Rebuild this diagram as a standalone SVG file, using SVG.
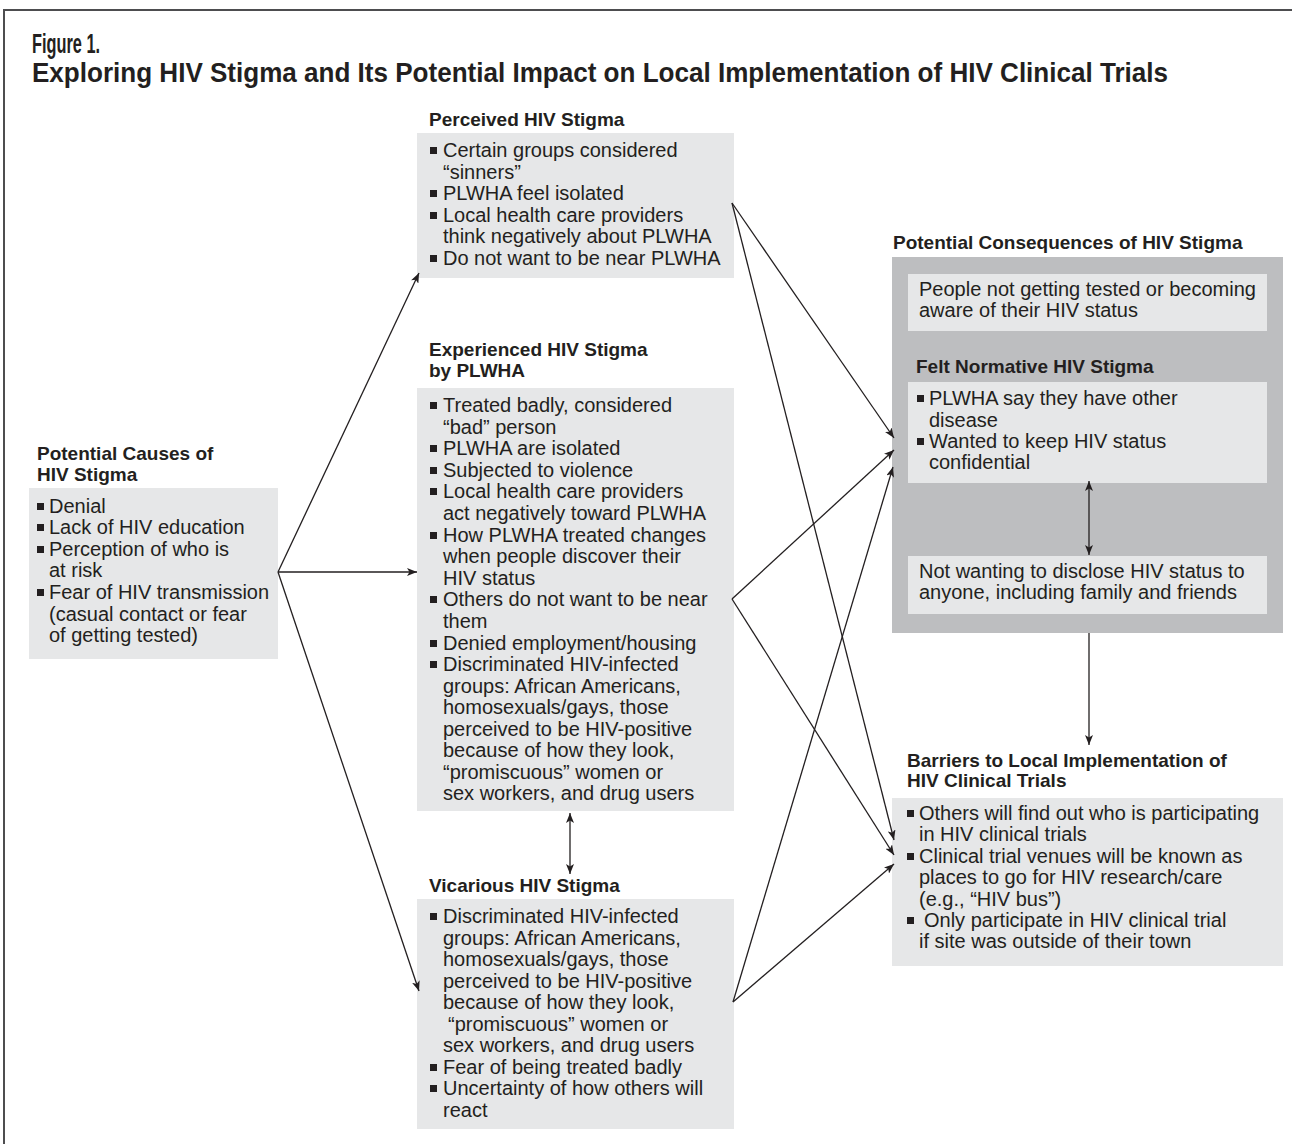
<svg xmlns="http://www.w3.org/2000/svg" width="1292" height="1144" viewBox="0 0 1292 1144">
<style>
.t{font-family:"Liberation Sans",Arial,sans-serif;font-size:20px;fill:#231f20}
.h{font-family:"Liberation Sans",Arial,sans-serif;font-size:19px;font-weight:bold;fill:#231f20}
.ti{font-family:"Liberation Sans Narrow","Liberation Sans",Arial,sans-serif;font-size:27px;font-weight:bold;fill:#231f20}
.box{fill:#e6e7e8}
.dark{fill:#bdbec0}
.b{fill:#231f20}
.c{stroke:#231f20;stroke-width:1.3;fill:none}
</style>
<defs>
<marker id="ah" viewBox="0 0 10 8" refX="10" refY="4" markerWidth="10" markerHeight="8" markerUnits="userSpaceOnUse" orient="auto-start-reverse">
<path d="M0,0 L10,4 L0,8 L2.5,4 z" fill="#231f20"/>
</marker>
</defs>
<rect width="1292" height="1144" fill="#ffffff"/>
<path d="M4,1144 L4,10 L1292,10" stroke="#4d4d4f" stroke-width="2" fill="none"/>
<g id="title">
<text class="ti" x="32" y="53" textLength="68" lengthAdjust="spacingAndGlyphs">Figure 1.</text>
<text class="ti" x="32" y="82" textLength="1136" lengthAdjust="spacingAndGlyphs">Exploring HIV Stigma and Its Potential Impact on Local Implementation of HIV Clinical Trials</text>
</g>

<g id="causes">
<text class="h" x="37" y="460">Potential Causes of</text>
<text class="h" x="37" y="481">HIV Stigma</text>
<rect class="box" x="29" y="488" width="249" height="171"/>
<rect class="b" x="37" y="503" width="7" height="7"/><text class="t" x="49" y="513">Denial</text>
<rect class="b" x="37" y="524" width="7" height="7"/><text class="t" x="49" y="534">Lack of HIV education</text>
<rect class="b" x="37" y="546" width="7" height="7"/><text class="t" x="49" y="556">Perception of who is</text>
<text class="t" x="49" y="577">at risk</text>
<rect class="b" x="37" y="589" width="7" height="7"/><text class="t" x="49" y="599">Fear of HIV transmission</text>
<text class="t" x="49" y="621">(casual contact or fear</text>
<text class="t" x="49" y="642">of getting tested)</text>
</g>

<g id="perceived">
<text class="h" x="429" y="126">Perceived HIV Stigma</text>
<rect class="box" x="417" y="133" width="317" height="145"/>
<rect class="b" x="430" y="147" width="7" height="7"/><text class="t" x="443" y="157">Certain groups considered</text>
<text class="t" x="443" y="179">“sinners”</text>
<rect class="b" x="430" y="190" width="7" height="7"/><text class="t" x="443" y="200">PLWHA feel isolated</text>
<rect class="b" x="430" y="212" width="7" height="7"/><text class="t" x="443" y="222">Local health care providers</text>
<text class="t" x="443" y="243">think negatively about PLWHA</text>
<rect class="b" x="430" y="255" width="7" height="7"/><text class="t" x="443" y="265">Do not want to be near PLWHA</text>
</g>

<g id="experienced">
<text class="h" x="429" y="356">Experienced HIV Stigma</text>
<text class="h" x="429" y="377">by PLWHA</text>
<rect class="box" x="417" y="388" width="317" height="423"/>
<rect class="b" x="430" y="402" width="7" height="7"/><text class="t" x="443" y="412">Treated badly, considered</text>
<text class="t" x="443" y="434">“bad” person</text>
<rect class="b" x="430" y="445" width="7" height="7"/><text class="t" x="443" y="455">PLWHA are isolated</text>
<rect class="b" x="430" y="467" width="7" height="7"/><text class="t" x="443" y="477">Subjected to violence</text>
<rect class="b" x="430" y="488" width="7" height="7"/><text class="t" x="443" y="498">Local health care providers</text>
<text class="t" x="443" y="520">act negatively toward PLWHA</text>
<rect class="b" x="430" y="532" width="7" height="7"/><text class="t" x="443" y="542">How PLWHA treated changes</text>
<text class="t" x="443" y="563">when people discover their</text>
<text class="t" x="443" y="585">HIV status</text>
<rect class="b" x="430" y="596" width="7" height="7"/><text class="t" x="443" y="606">Others do not want to be near</text>
<text class="t" x="443" y="628">them</text>
<rect class="b" x="430" y="640" width="7" height="7"/><text class="t" x="443" y="650">Denied employment/housing</text>
<rect class="b" x="430" y="661" width="7" height="7"/><text class="t" x="443" y="671">Discriminated HIV-infected</text>
<text class="t" x="443" y="693">groups: African Americans,</text>
<text class="t" x="443" y="714">homosexuals/gays, those</text>
<text class="t" x="443" y="736">perceived to be HIV-positive</text>
<text class="t" x="443" y="757">because of how they look,</text>
<text class="t" x="443" y="779">“promiscuous” women or</text>
<text class="t" x="443" y="800">sex workers, and drug users</text>
</g>

<g id="vicarious">
<text class="h" x="429" y="892">Vicarious HIV Stigma</text>
<rect class="box" x="417" y="899" width="317" height="230"/>
<rect class="b" x="430" y="913" width="7" height="7"/><text class="t" x="443" y="923">Discriminated HIV-infected</text>
<text class="t" x="443" y="945">groups: African Americans,</text>
<text class="t" x="443" y="966">homosexuals/gays, those</text>
<text class="t" x="443" y="988">perceived to be HIV-positive</text>
<text class="t" x="443" y="1009">because of how they look,</text>
<text class="t" x="448" y="1031">“promiscuous” women or</text>
<text class="t" x="443" y="1052">sex workers, and drug users</text>
<rect class="b" x="430" y="1064" width="7" height="7"/><text class="t" x="443" y="1074">Fear of being treated badly</text>
<rect class="b" x="430" y="1085" width="7" height="7"/><text class="t" x="443" y="1095">Uncertainty of how others will</text>
<text class="t" x="443" y="1117">react</text>
</g>

<g id="consequences">
<text class="h" x="893" y="249">Potential Consequences of HIV Stigma</text>
<rect class="dark" x="892" y="257" width="391" height="376"/>
<rect class="box" x="908" y="274" width="359" height="57"/>
<text class="t" x="919" y="296">People not getting tested or becoming</text>
<text class="t" x="919" y="317">aware of their HIV status</text>
</g>

<g id="felt-normative">
<text class="h" x="916" y="373">Felt Normative HIV Stigma</text>
<rect class="box" x="908" y="382" width="359" height="101"/>
<rect class="b" x="917" y="395" width="7" height="7"/><text class="t" x="929" y="405">PLWHA say they have other</text>
<text class="t" x="929" y="427">disease</text>
<rect class="b" x="917" y="438" width="7" height="7"/><text class="t" x="929" y="448">Wanted to keep HIV status</text>
<text class="t" x="929" y="469">confidential</text>
</g>

<g id="not-disclosing">
<rect class="box" x="908" y="556" width="359" height="58"/>
<text class="t" x="919" y="578">Not wanting to disclose HIV status to</text>
<text class="t" x="919" y="599">anyone, including family and friends</text>
</g>

<g id="barriers">
<text class="h" x="907" y="767">Barriers to Local Implementation of</text>
<text class="h" x="907" y="787">HIV Clinical Trials</text>
<rect class="box" x="892" y="798" width="391" height="168"/>
<rect class="b" x="907" y="810" width="7" height="7"/><text class="t" x="919" y="820">Others will find out who is participating</text>
<text class="t" x="919" y="841">in HIV clinical trials</text>
<rect class="b" x="907" y="853" width="7" height="7"/><text class="t" x="919" y="863">Clinical trial venues will be known as</text>
<text class="t" x="919" y="884">places to go for HIV research/care</text>
<text class="t" x="919" y="906">(e.g., “HIV bus”)</text>
<rect class="b" x="907" y="917" width="7" height="7"/><text class="t" x="924" y="927">Only participate in HIV clinical trial</text>
<text class="t" x="919" y="948">if site was outside of their town</text>
</g>

<g id="connectors">
<line class="c" x1="278" y1="572" x2="419" y2="273" marker-end="url(#ah)"/>
<line class="c" x1="278" y1="572" x2="417" y2="572" marker-end="url(#ah)"/>
<line class="c" x1="278" y1="572" x2="419" y2="991" marker-end="url(#ah)"/>
<line class="c" x1="732" y1="203" x2="894" y2="438" marker-end="url(#ah)"/>
<line class="c" x1="732" y1="203" x2="894" y2="840" marker-end="url(#ah)"/>
<line class="c" x1="732" y1="599" x2="894" y2="450" marker-end="url(#ah)"/>
<line class="c" x1="732" y1="599" x2="894" y2="855" marker-end="url(#ah)"/>
<line class="c" x1="733" y1="1002" x2="893" y2="467" marker-end="url(#ah)"/>
<line class="c" x1="733" y1="1002" x2="894" y2="864" marker-end="url(#ah)"/>
<line class="c" x1="570" y1="813" x2="570" y2="874" marker-start="url(#ah)" marker-end="url(#ah)"/>
<line class="c" x1="1089" y1="481" x2="1089" y2="555" marker-start="url(#ah)" marker-end="url(#ah)"/>
<line class="c" x1="1089" y1="633" x2="1089" y2="745" marker-end="url(#ah)"/>
</g>
</svg>
